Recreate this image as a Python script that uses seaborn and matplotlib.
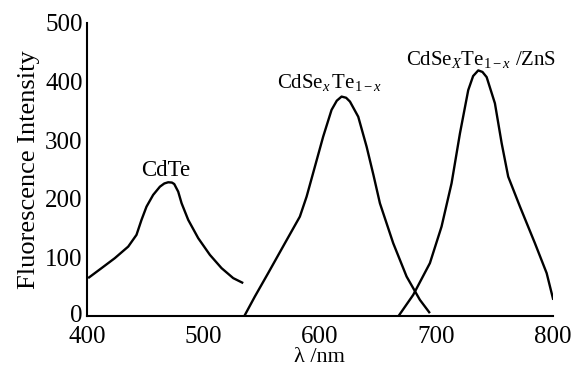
import matplotlib
matplotlib.use("Agg")
import matplotlib.pyplot as plt
import matplotlib.transforms as mtransforms
import seaborn as sns
import pandas as pd

# --- data ---
cdte_x = [401.1, 412.6, 424, 435.5, 442.6, 446.9, 451.2, 456.9, 462.7, 466.5, 469.8, 473, 475, 478.4,
          481.3, 487, 495.6, 505.6, 515.6, 525.6, 534.2]
cdte_y = [64.7, 81.7, 98.7, 118.4, 138.4, 163.9, 186.5, 206.5, 220.5, 226, 228, 227.5, 225, 212,
          192.3, 163.9, 132.7, 104.3, 81.7, 64.7, 56.2]

alloy_x = [534.2, 544.2, 555.6, 570, 582.8, 588.6, 595.7, 602.8, 610, 614.5, 618.6, 622.5, 625.8, 632.9,
           640.1, 646, 651.5, 662.9, 674.4, 685.8, 694.4]
alloy_y = [-3.4, 33.4, 73.2, 124.3, 169.5, 203.6, 254.6, 305.7, 351.3, 367, 374, 372, 365.5, 339.7,
           288.6, 240, 192.3, 124.3, 67.4, 27.7, 5]

zns_x = [667.2, 680.1, 694.4, 704.4, 713, 720.2, 727.3, 731.5, 735.9, 739.5, 743.1, 750.2, 756, 761.6,
         771.7, 784.5, 794.6, 800.3]
zns_y = [-0.7, 36.2, 90.2, 152.5, 226.3, 311.4, 385, 409, 418.6, 416, 407.2, 362.5, 294.4, 237.6,
         186.5, 124.3, 73.2, 27.7]

xticks = [400, 500, 600, 700, 800]
yticks = [0, 100, 200, 300, 400, 500]

labels = ["CdTe", r"CdSe$_x\,$Te$_{\mathrm{1-}x}$", r"CdSe$_X$Te$_{\mathrm{1-}x}$ /ZnS"]
label_pos = [(468, 248), (608, 398), (738, 438)]
label_size = [16.5, 15, 15]

sns.set_theme(style="white")
plt.rcParams["font.family"] = ["Liberation Serif", "DejaVu Serif"]
plt.rcParams["mathtext.fontset"] = "custom"
plt.rcParams["mathtext.rm"] = "Liberation Serif"
plt.rcParams["mathtext.it"] = "Liberation Serif:italic"

df = pd.concat([
    pd.DataFrame({"x": cdte_x, "y": cdte_y, "s": "CdTe"}),
    pd.DataFrame({"x": alloy_x, "y": alloy_y, "s": "alloy"}),
    pd.DataFrame({"x": zns_x, "y": zns_y, "s": "zns"}),
])

fig = plt.figure(figsize=(5.79, 3.71), dpi=100)
ax = fig.add_axes([0.150, 0.148, 0.805, 0.791])

for name, g in df.groupby("s", sort=False):
    sns.lineplot(data=g, x="x", y="y", ax=ax, color="black", lw=1.7,
                 sort=False, estimator=None, legend=False,
                 solid_joinstyle="round", solid_capstyle="butt")

ax.set_xlim(400, 800)
ax.set_ylim(0, 500)
ax.set_xticks(xticks)
ax.set_yticks(yticks)
ax.set_xticklabels([str(t) for t in xticks], fontsize=18)
ax.set_yticklabels([str(t) for t in yticks], fontsize=18)
ax.tick_params(axis="x", direction="in", length=5, width=1.3, pad=7, colors="black")
ax.tick_params(axis="y", direction="in", length=5, width=1.3, pad=3, colors="black")
for sp in ["top", "right"]:
    ax.spines[sp].set_visible(False)
for sp in ["left", "bottom"]:
    ax.spines[sp].set_color("black")
    ax.spines[sp].set_linewidth(1.5)

# nudge the y "0" label up slightly so it does not touch "400"
zero_lbl = ax.get_yticklabels()[0]
zero_lbl.set_transform(zero_lbl.get_transform() +
                       mtransforms.ScaledTranslation(0, 3 / 100, fig.dpi_scale_trans))

ax.set_xlabel("λ /nm", fontsize=16, labelpad=0, color="black")
ax.set_ylabel("Fluorescence Intensity", fontsize=19, labelpad=4, color="black")

for t, (x, y), s in zip(labels, label_pos, label_size):
    ax.text(x, y, t, ha="center", va="center", fontsize=s, color="black")

fig.savefig("out.png", dpi=100)
